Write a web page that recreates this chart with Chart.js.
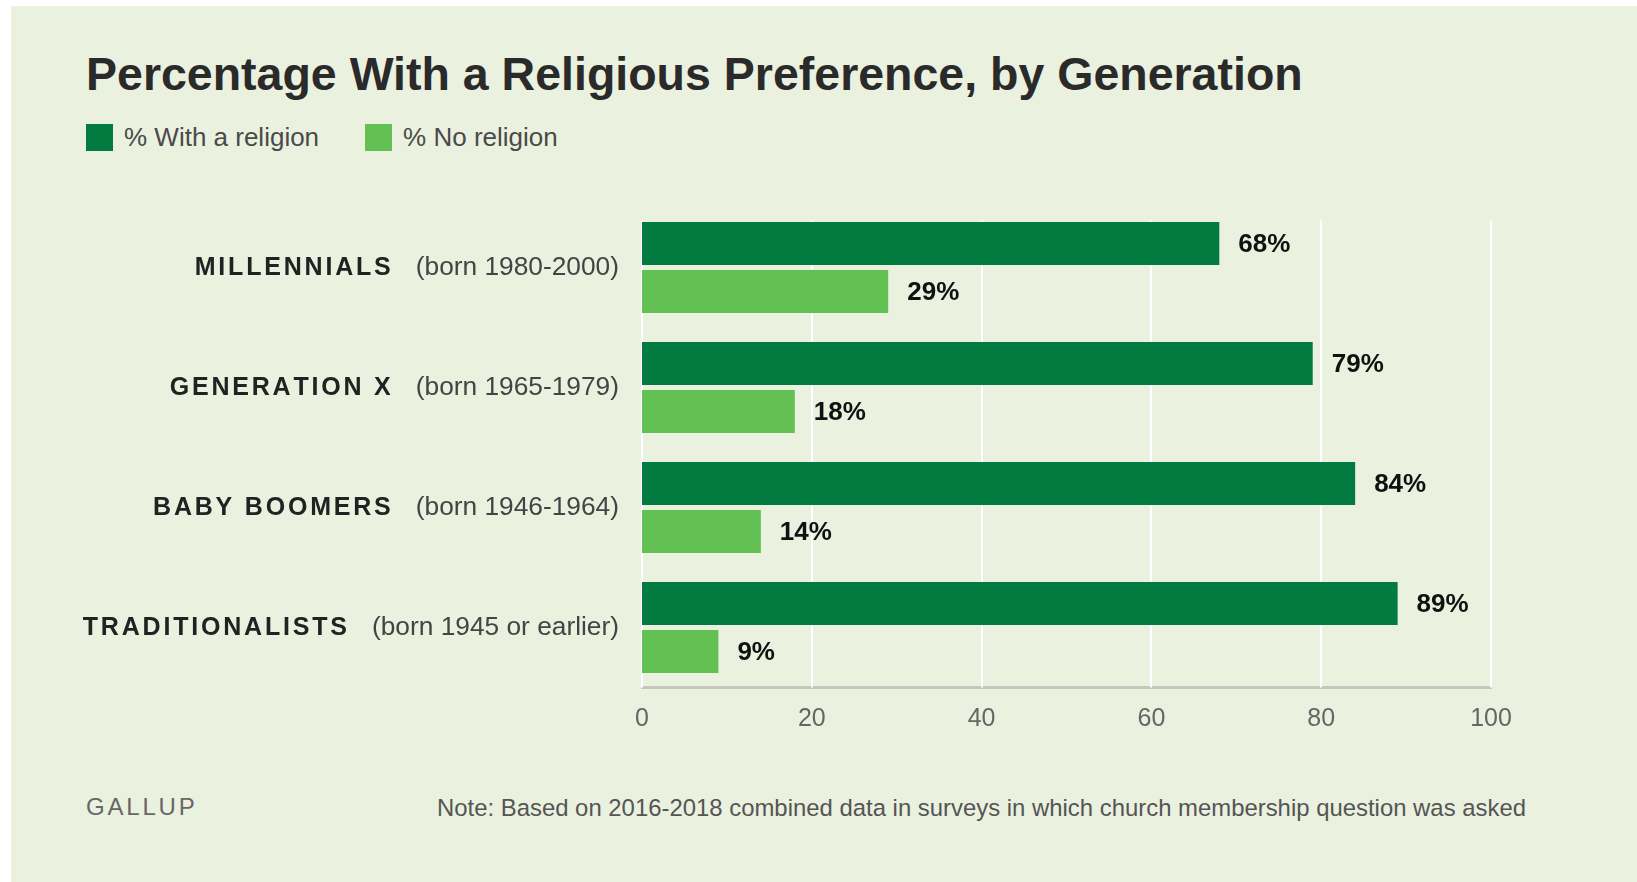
<!DOCTYPE html>
<html>
<head>
<meta charset="utf-8">
<script src="https://cdn.jsdelivr.net/npm/chart.js@4.4.1/dist/chart.umd.min.js"></script>
<style>
  html, body { margin: 0; padding: 0; background: #fff; overflow: hidden; }
  body { width: 1637px; height: 882px; position: relative; font-family: "Liberation Sans", Arial, sans-serif; }
  #panel { position: absolute; left: 11px; top: 6px; right: 0; bottom: 0; background: #eaf1df; }
  #title { position: absolute; left: 86px; top: 51px; font-size: 46.5px; line-height: 46px; font-weight: bold; color: #2a2a2a; white-space: nowrap; }
  #legend { position: absolute; left: 86px; top: 124px; height: 27px; display: flex; align-items: center; font-size: 26px; color: #4a4a4a; white-space: nowrap; }
  #legend .sw { display: inline-block; width: 27px; height: 27px; margin-right: 11px; }
  #legend .item { display: flex; align-items: center; margin-right: 46px; }
  #chartBox { position: absolute; left: 0; top: 180px; width: 1637px; height: 580px; }
  #brand { position: absolute; left: 86px; top: 794px; font-size: 24px; line-height: 26px; letter-spacing: 2.8px; color: #666; }
  #note { position: absolute; left: 437px; top: 795px; font-size: 23.9px; line-height: 26px; color: #555; white-space: nowrap; }
</style>
</head>
<body>
<div id="panel"></div>
<div id="title">Percentage With a Religious Preference, by Generation</div>
<div id="legend"></div>
<div id="chartBox"><canvas id="religionChart"></canvas></div>
<div id="brand">GALLUP</div>
<div id="note">Note: Based on 2016-2018 combined data in surveys in which church membership question was asked</div>

<script>
var generations = ['MILLENNIALS', 'GENERATION X', 'BABY BOOMERS', 'TRADITIONALISTS'];
var birthYears = ['(born 1980-2000)', '(born 1965-1979)', '(born 1946-1964)', '(born 1945 or earlier)'];
var seriesNames = ['% With a religion', '% No religion'];
var withReligion = [68, 79, 84, 89];
var noReligion = [29, 18, 14, 9];
var xTicks = [0, 20, 40, 60, 80, 100];

var darkGreen = '#027b40';
var lightGreen = '#63c154';
var fontFamily = '"Liberation Sans", Arial, sans-serif';
var yearFontSize = 26.3;

// legend (html)
var legendEl = document.getElementById('legend');
[darkGreen, lightGreen].forEach(function(c, i) {
    var item = document.createElement('span');
    item.className = 'item';
    item.innerHTML = '<span class="sw" style="background:' + c + '"></span>' + seriesNames[i];
    legendEl.appendChild(item);
});

// white vertical grid lines, starting just above the first bar
var gridLines = {
    id: 'gridLines',
    beforeDatasetsDraw: function(chart) {
        var ctx = chart.ctx;
        var xs = chart.scales.x;
        var area = chart.chartArea;
        ctx.save();
        ctx.strokeStyle = '#ffffff';
        ctx.lineWidth = 2;
        xTicks.forEach(function(v) {
            var px = Math.round(xs.getPixelForValue(v));
            ctx.beginPath();
            ctx.moveTo(px, area.top + 13);
            ctx.lineTo(px, area.bottom);
            ctx.stroke();
        });
        ctx.restore();
    }
};

// percent labels at the end of each bar
var valueLabels = {
    id: 'valueLabels',
    afterDatasetsDraw: function(chart) {
        var ctx = chart.ctx;
        ctx.save();
        ctx.font = 'bold 26px ' + fontFamily;
        ctx.fillStyle = '#111';
        ctx.textAlign = 'left';
        ctx.textBaseline = 'middle';
        chart.data.datasets.forEach(function(ds, di) {
            chart.getDatasetMeta(di).data.forEach(function(bar, i) {
                ctx.fillText(ds.data[i] + '%', bar.x + 19, bar.y + 1);
            });
        });
        ctx.restore();
    }
};

// bold, letter-spaced generation names left of the birth-year ticks
var genNames = {
    id: 'genNames',
    afterDraw: function(chart) {
        var ctx = chart.ctx;
        var ys = chart.scales.y;
        var spacing = 2.8;
        ctx.save();
        ctx.textBaseline = 'middle';
        ctx.textAlign = 'left';
        generations.forEach(function(name, i) {
            ctx.font = yearFontSize + 'px ' + fontFamily;
            var parenW = ctx.measureText(birthYears[i]).width;
            var right = ys.right - 23 - parenW - 25;
            ctx.font = 'bold 25px ' + fontFamily;
            ctx.fillStyle = '#222';
            var total = 0;
            for (var k = 0; k < name.length; k++) {
                total += ctx.measureText(name[k]).width + (k < name.length - 1 ? spacing : 0);
            }
            var x = right - total;
            var y = ys.getPixelForTick(i) + 1;
            for (var j = 0; j < name.length; j++) {
                ctx.fillText(name[j], x, y);
                x += ctx.measureText(name[j]).width + spacing;
            }
        });
        ctx.restore();
    }
};

new Chart(document.getElementById('religionChart'), {
    type: 'bar',
    data: {
        labels: generations,
        datasets: [
            {
                label: seriesNames[0],
                data: withReligion,
                backgroundColor: darkGreen,
                categoryPercentage: 0.8,
                barPercentage: 0.9,
            },
            {
                label: seriesNames[1],
                data: noReligion,
                backgroundColor: lightGreen,
                categoryPercentage: 0.8,
                barPercentage: 0.9,
            },
        ],
    },
    options: {
        indexAxis: 'y',
        responsive: true,
        maintainAspectRatio: false,
        animation: false,
        events: [],
        layout: {
            padding: { top: 27.5, bottom: 22.5, left: 0, right: 146 },
        },
        plugins: {
            legend: { display: false },
            tooltip: { enabled: false },
        },
        scales: {
            x: {
                type: 'linear',
                min: 0,
                max: 100,
                afterBuildTicks: function(scale) {
                    scale.ticks = xTicks.map(function(v) { return { value: v }; });
                },
                grid: { display: false, drawTicks: false },
                border: { display: true, color: '#c4c6c0', width: 3 },
                ticks: {
                    color: '#666',
                    padding: 17,
                    font: { family: fontFamily, size: 25 },
                },
                afterFit: function(scale) { scale.height = 50; },
            },
            y: {
                type: 'category',
                grid: { display: false, drawTicks: false },
                border: { display: false },
                ticks: {
                    color: '#444',
                    padding: 23,
                    font: { family: fontFamily, size: yearFontSize },
                    callback: function(value, index) { return birthYears[index]; },
                },
                afterFit: function(scale) {
                    scale.width = 642;
                    scale.paddingTop = 0;
                    scale.paddingBottom = 0;
                },
            },
        },
    },
    plugins: [gridLines, valueLabels, genNames],
});
</script>
</body>
</html>
